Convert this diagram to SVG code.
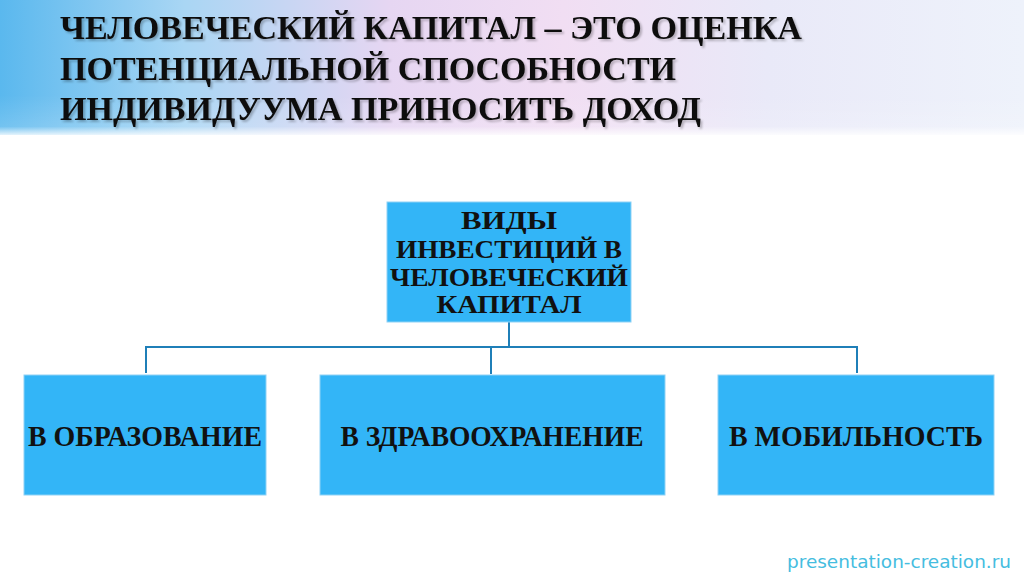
<svg xmlns="http://www.w3.org/2000/svg" width="1024" height="574" viewBox="0 0 1024 574">
<defs>
<linearGradient id="hdr" x1="0" y1="0" x2="1" y2="0">
<stop offset="0" stop-color="#5ab8ee"/>
<stop offset="0.18" stop-color="#a9d6f4"/>
<stop offset="0.38" stop-color="#e6d6f2"/>
<stop offset="0.55" stop-color="#f1def3"/>
<stop offset="0.75" stop-color="#e9e9f8"/>
<stop offset="1" stop-color="#eef2fb"/>
</linearGradient>
<linearGradient id="fade" x1="0" y1="0" x2="0" y2="1">
<stop offset="0" stop-color="#fff" stop-opacity="0"/>
<stop offset="0.75" stop-color="#fff" stop-opacity="0.15"/>
<stop offset="1" stop-color="#fff" stop-opacity="1"/>
</linearGradient>
<filter id="sh" x="-5%" y="-20%" width="110%" height="140%">
<feGaussianBlur in="SourceAlpha" stdDeviation="1.2"/>
<feOffset dx="1.5" dy="1.5" result="b"/>
<feComponentTransfer><feFuncA type="linear" slope="0.25"/></feComponentTransfer>
<feMerge><feMergeNode/><feMergeNode in="SourceGraphic"/></feMerge>
</filter>
</defs>
<style>
.title{font-family:"Liberation Serif","Times New Roman",serif;font-weight:bold;font-size:34px;fill:#111}
.box{fill:#33b5f7;stroke:#8fd2f5;stroke-width:1}
.bt{font-family:"Liberation Serif","Times New Roman",serif;font-weight:bold;font-size:26px;fill:#111;text-anchor:middle}
.bt2{font-family:"Liberation Serif","Times New Roman",serif;font-weight:bold;font-size:30px;fill:#111;text-anchor:middle}
.conn{stroke:#1f7fb8;stroke-width:2;fill:none}
.wm{font-family:"DejaVu Sans",Verdana,sans-serif;font-size:17px;fill:#45bde0}
</style>
<rect width="1024" height="574" fill="#ffffff"/>
<rect x="0" y="0" width="1024" height="135" fill="url(#hdr)"/>
<rect x="0" y="95" width="1024" height="42" fill="url(#fade)"/>
<g id="title" filter="url(#sh)">
<text class="title" x="60" y="39" textLength="742" lengthAdjust="spacingAndGlyphs">ЧЕЛОВЕЧЕСКИЙ КАПИТАЛ – ЭТО ОЦЕНКА</text>
<text class="title" x="60" y="80" textLength="616" lengthAdjust="spacingAndGlyphs">ПОТЕНЦИАЛЬНОЙ СПОСОБНОСТИ</text>
<text class="title" x="60" y="120" textLength="641" lengthAdjust="spacingAndGlyphs">ИНДИВИДУУМА ПРИНОСИТЬ ДОХОД</text>
</g>
<g id="connectors">
<line class="conn" x1="509" y1="322" x2="509" y2="347"/>
<polyline class="conn" points="146,373 146,347 857,347 857,373"/>
<line class="conn" x1="491" y1="347" x2="491" y2="374"/>
</g>
<g id="node-top">
<rect class="box" x="387" y="202" width="244" height="120"/>
<text class="bt" x="509" y="229" textLength="96" lengthAdjust="spacingAndGlyphs">ВИДЫ</text>
<text class="bt" x="509" y="258" textLength="226" lengthAdjust="spacingAndGlyphs">ИНВЕСТИЦИЙ В</text>
<text class="bt" x="509" y="286" textLength="238" lengthAdjust="spacingAndGlyphs">ЧЕЛОВЕЧЕСКИЙ</text>
<text class="bt" x="509" y="313" textLength="145" lengthAdjust="spacingAndGlyphs">КАПИТАЛ</text>
</g>
<g id="node-edu">
<rect class="box" x="24" y="375" width="242" height="120"/>
<text class="bt2" x="145" y="446" textLength="234" lengthAdjust="spacingAndGlyphs">В ОБРАЗОВАНИЕ</text>
</g>
<g id="node-health">
<rect class="box" x="320" y="375" width="345" height="120"/>
<text class="bt2" x="492" y="446" textLength="303" lengthAdjust="spacingAndGlyphs">В ЗДРАВООХРАНЕНИЕ</text>
</g>
<g id="node-mob">
<rect class="box" x="718" y="375" width="276" height="120"/>
<text class="bt2" x="856" y="446" textLength="254" lengthAdjust="spacingAndGlyphs">В МОБИЛЬНОСТЬ</text>
</g>
<text class="wm" x="787" y="568" textLength="224" lengthAdjust="spacingAndGlyphs">presentation-creation.ru</text>
</svg>
